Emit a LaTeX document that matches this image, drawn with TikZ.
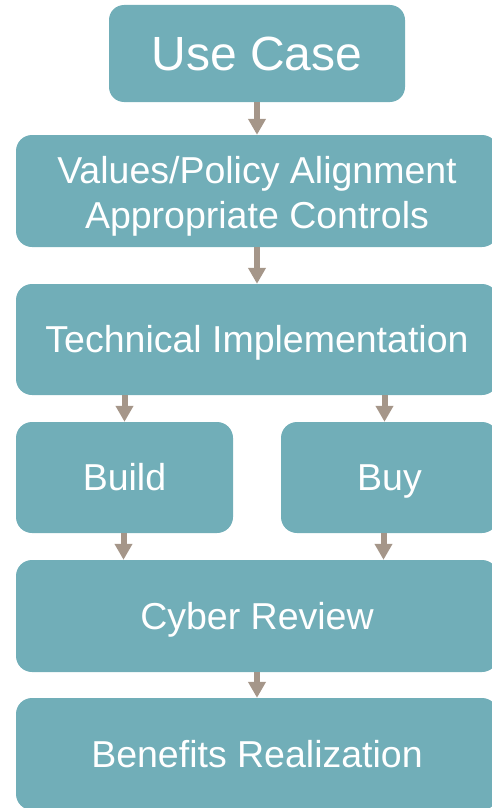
\documentclass[tikz,border=0pt]{standalone}
\usepackage{fontspec}
\setmainfont{Liberation Sans}
\usetikzlibrary{arrows.meta}
\definecolor{boxc}{HTML}{71AEB8}
\definecolor{arrc}{HTML}{A59689}
\begin{document}
\begin{tikzpicture}[x=1pt,y=-1pt,
  box/.style={fill=boxc,draw=none,rounded corners=16pt,text=white,font=\fontsize{37.5}{45}\selectfont,align=center,inner sep=0pt,text height=26.8pt,text depth=0pt},
  lbl/.style={text=white,font=\fontsize{37.5}{45}\selectfont,align=center,inner sep=0pt},
  conn/.style={draw=arrc,line width=6pt,-{Triangle[width=17pt,length=16pt]}}]
\useasboundingbox (0,0) rectangle (492,808);
\clip (0,0) rectangle (492,808);
\node[box,minimum width=296pt,minimum height=97pt,rounded corners=15pt,font=\fontsize{48}{56}\selectfont,text height=34.4pt] (uc) at (257,53.5) {Use Case};
\node[box,minimum width=482pt,minimum height=112pt] (val) at (257,191) {};
\node[lbl,anchor=base] (valtext) at (257,228) {Values/Policy Alignment\\Appropriate Controls};
\node[box,minimum width=482pt,minimum height=111pt] (tech) at (257,339.5) {Technical Implementation};
\node[box,minimum width=217pt,minimum height=111pt] (build) at (124.5,477.5) {Build};
\node[box,minimum width=217pt,minimum height=111pt] (buy) at (389.5,477.5) {Buy};
\node[box,minimum width=482pt,minimum height=112pt] (cyber) at (257,616) {Cyber Review};
\node[box,minimum width=482pt,minimum height=112pt] (ben) at (257,754) {Benefits Realization};
\draw[conn] (uc.south) -- (val.north);
\draw[conn] (val.south) -- (tech.north);
\draw[conn] (tech.south -| build.north) -- (build.north);
\draw[conn] ([xshift=-5pt]tech.south -| buy.north) -- ([xshift=-5pt]buy.north);
\draw[conn] ([xshift=-1pt]build.south) -- ([xshift=-1pt]cyber.north -| build.south);
\draw[conn] ([xshift=-6pt]buy.south) -- ([xshift=-6pt]cyber.north -| buy.south);
\draw[conn] (cyber.south) -- (ben.north);
\end{tikzpicture}
\end{document}
